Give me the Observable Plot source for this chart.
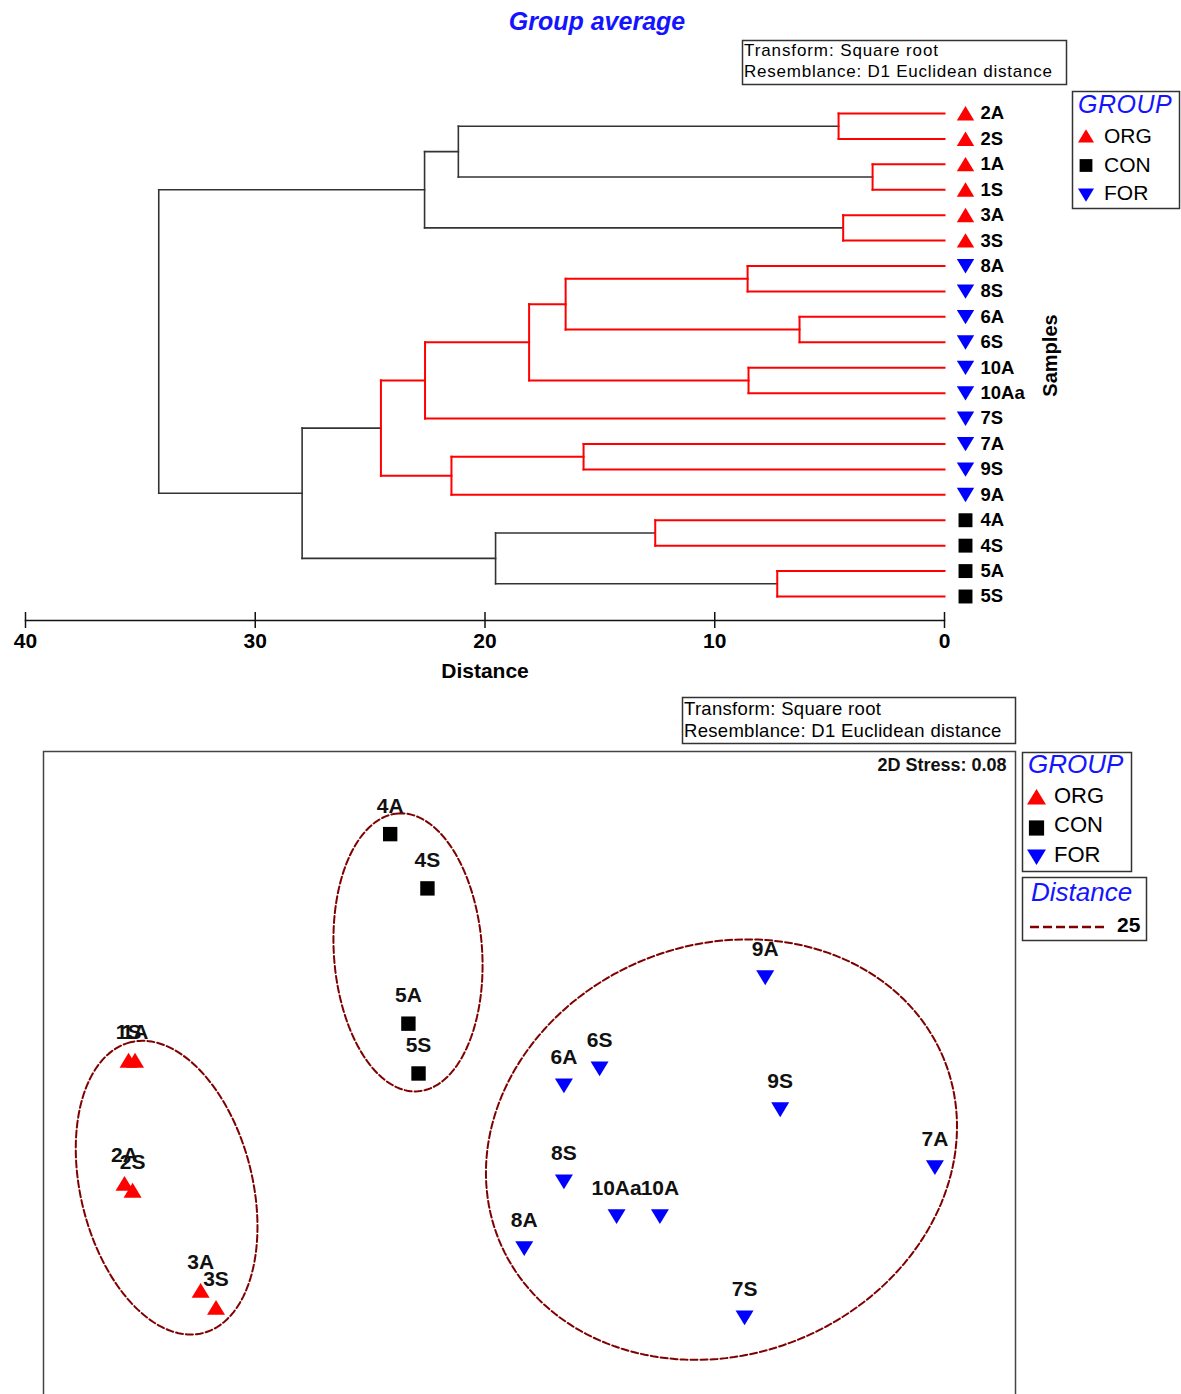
<!DOCTYPE html>
<html>
<head>
<meta charset="utf-8">
<script src="https://cdn.jsdelivr.net/npm/d3@7"></script>
<script src="https://cdn.jsdelivr.net/npm/@observablehq/plot@0.6"></script>
<style>
  html, body { margin: 0; padding: 0; background: #fff; }
  #page { position: relative; width: 1181px; height: 1394px; overflow: hidden; background: #fff; }
  #page > svg { position: absolute; left: 0; }
</style>
</head>
<body>
<div id="page"></div>
<script>
// ---------------- data ----------------
const samples = ["2A","2S","1A","1S","3A","3S","8A","8S","6A","6S","10A","10Aa","7S","7A","9S","9A","4A","4S","5A","5S"];
const sampleGroup = ["ORG","ORG","ORG","ORG","ORG","ORG","FOR","FOR","FOR","FOR","FOR","FOR","FOR","FOR","FOR","FOR","CON","CON","CON","CON"];
const groups = ["ORG","CON","FOR"];
const groupColors = ["#ff0000","#000000","#0000ff"];

// group-average clustering merges (node k+1 = "n"+(k+1))
const mergeLeft  = ["2A","1A","3A","n1","n4","8A","6A","n6","10A","n8","n10","7A","n12","n11","4A","5A","n15","n14","n5"];
const mergeRight = ["2S","1S","3S","n2","n3","8S","6S","n7","10Aa","n9","7S","9S","9A","n13","4S","5S","n16","n17","n18"];
const mergeHeight = [4.61,3.13,4.41,21.16,22.63,8.57,6.31,16.49,8.53,18.08,22.61,15.71,21.46,24.53,12.59,7.28,19.54,27.96,34.20];
const mergeSignificant = [false,false,false,true,true,false,false,false,false,false,false,false,false,false,false,false,true,true,true];
const distanceTicks = [40,30,20,10,0];

// NMDS coordinates (same order as samples)
const mds1 = [-1.000,-0.980,-0.974,-0.990,-0.812,-0.774,-0.013,0.085,0.085,0.173,0.322,0.215,0.531,1.001,0.619,0.582,-0.344,-0.252,-0.299,-0.274];
const mds2 = [-0.267,-0.284,0.037,0.037,-0.531,-0.573,-0.427,-0.262,-0.025,0.017,-0.348,-0.348,-0.598,-0.227,-0.084,0.242,0.596,0.462,0.128,0.005];

// distance-25 cluster contours (ellipse approximations in NMDS units)
const contourGroup = ["ORG","CON","FOR"];
const contourCx = [-0.896,-0.300,0.474];
const contourCy = [-0.277,0.304,-0.183];
const contourA = [0.370,0.344,0.593];
const contourB = [0.212,0.183,0.506];
const contourAngle = [104,94,22];
const contourDistance = 25;

const stressText = "2D Stress: 0.08";
const transformLines = ["Transform: Square root","Resemblance: D1 Euclidean distance"];
const titleText = "Group average";

// ---------------- helpers ----------------
const FONT = '"Liberation Sans", Arial, Helvetica, sans-serif';
const symUp = {draw(ctx, size){ const r = Math.sqrt(size/Math.PI); ctx.moveTo(0,-0.85*r); ctx.lineTo(r,0.8*r); ctx.lineTo(-r,0.8*r); ctx.closePath(); }};
const symDown = {draw(ctx, size){ const r = Math.sqrt(size/Math.PI); ctx.moveTo(-r,-0.8*r); ctx.lineTo(r,-0.8*r); ctx.lineTo(0,0.85*r); ctx.closePath(); }};
const symSquare = {draw(ctx, size){ const r = Math.sqrt(size/Math.PI); const s = 0.8*r; ctx.moveTo(-s,-s); ctx.lineTo(s,-s); ctx.lineTo(s,s); ctx.lineTo(-s,s); ctx.closePath(); }};
const groupSymbol = {ORG: symUp, CON: symSquare, FOR: symDown};
const colorOf = g => groupColors[groups.indexOf(g)];

const page = document.getElementById("page");

// ---------------- dendrogram ----------------
const nodeY = new Map(samples.map((s,i)=>[s,i]));
const nodeH = new Map(samples.map(s=>[s,0]));
const segs = [];
mergeLeft.forEach((l,k)=>{
  const r = mergeRight[k], h = mergeHeight[k], sig = mergeSignificant[k];
  const yl = nodeY.get(l), yr = nodeY.get(r);
  segs.push({x1:h, y1:yl, x2:h, y2:yr, sig});
  segs.push({x1:h, y1:yl, x2:nodeH.get(l), y2:yl, sig});
  segs.push({x1:h, y1:yr, x2:nodeH.get(r), y2:yr, sig});
  nodeY.set("n"+(k+1), (yl+yr)/2);
  nodeH.set("n"+(k+1), h);
});
const leaves = samples.map((name,i)=>({name, group: sampleGroup[i], idx: i}));

const dendro = Plot.plot({
  width: 1181, height: 690,
  marginLeft: 25, marginRight: 237, marginTop: 90, marginBottom: 70,
  x: {domain: [40, 0]},
  y: {domain: [0, samples.length-1], range: [113, 596], axis: null},
  style: {fontFamily: FONT, background: "transparent", color: "#000", overflow: "visible"},
  marks: [
    Plot.frame({anchor: "bottom", stroke: "#111", strokeWidth: 1.5}),
    Plot.axisX({ticks: distanceTicks, tickSize: -8, fill: "none", stroke: "#111", label: null, strokeWidth: 1.5}),
    Plot.axisX({ticks: distanceTicks, tickSize: 8, tickPadding: 5, stroke: "#111", strokeWidth: 1.5, fontSize: 21, fontWeight: "bold",
                label: "Distance", labelAnchor: "center", labelArrow: "none", labelOffset: 57}),
    Plot.link(segs.filter(d=>d.sig), {x1:"x1", y1:"y1", x2:"x2", y2:"y2", stroke:"#333", strokeWidth:1.6, strokeLinecap:"square"}),
    Plot.link(segs.filter(d=>!d.sig), {x1:"x1", y1:"y1", x2:"x2", y2:"y2", stroke:"#ff0000", strokeWidth:2, strokeLinecap:"square"}),
    ...groups.map(g => Plot.dot(leaves.filter(d=>d.group===g), {x: d=>nodeH.get(d.name), y: "idx", dx: 21, r: 8.7, symbol: groupSymbol[g], fill: colorOf(g), stroke: "none"})),
    Plot.text(leaves, {x: d=>nodeH.get(d.name), y: "idx", text: "name", dx: 36, textAnchor: "start", lineAnchor: "middle", fontSize: 18.5, fontWeight: "bold", fill: "#000", letterSpacing: 1}),
    Plot.text(["Samples"], {frameAnchor: "right", dx: 106, rotate: -90, textAnchor: "middle", lineAnchor: "middle", fontSize: 20, fontWeight: "bold", fill: "#000"})
  ]
});
dendro.style.top = "0px";
page.appendChild(dendro);

// ---------------- NMDS ----------------
const mdsPts = samples.map((name,i)=>({name, group: sampleGroup[i], x: mds1[i], y: mds2[i]}));
const contourPts = [];
contourGroup.forEach((g,k)=>{
  const th = contourAngle[k]*Math.PI/180;
  for (let t = 0; t <= 360; t += 2) {
    const u = t*Math.PI/180;
    const ex = contourA[k]*Math.cos(u), ey = contourB[k]*Math.sin(u);
    contourPts.push({group: g, x: contourCx[k] + ex*Math.cos(th) - ey*Math.sin(th), y: contourCy[k] + ex*Math.sin(th) + ey*Math.cos(th)});
  }
});

const nmds = Plot.plot({
  width: 1181, height: 740,
  marginLeft: 43, marginRight: 166, marginTop: 61, marginBottom: 0,
  x: {domain: [-1.2, 1.2], range: [43, 1015], axis: null},
  y: {domain: [-0.8, 0.8], range: [709, 61], axis: null},
  style: {fontFamily: FONT, background: "transparent", color: "#000", overflow: "visible"},
  marks: [
    Plot.frame({stroke: "#444", strokeWidth: 1.5}),
    Plot.line(contourPts, {x: "x", y: "y", z: "group", stroke: "#800000", strokeWidth: 2, strokeDasharray: "7,3"}),
    ...groups.map(g => Plot.dot(mdsPts.filter(d=>d.group===g), {x: "x", y: "y", r: 9, symbol: groupSymbol[g], fill: colorOf(g), stroke: "none"})),
    Plot.text(mdsPts, {x: "x", y: "y", text: "name", dy: -28, fontSize: 21, fontWeight: "bold", fill: "#111", lineAnchor: "middle"}),
    Plot.text([stressText], {frameAnchor: "top-right", dx: -9, dy: 14, textAnchor: "end", lineAnchor: "middle", fontSize: 18, fontWeight: "bold", fill: "#111"})
  ]
});
nmds.style.top = "690px";
page.appendChild(nmds);

// ---------------- titles, notes, legends ----------------
const ov = d3.select(page).append("svg")
  .attr("width", 1181).attr("height", 1394)
  .style("position", "absolute").style("top", "0px").style("left", "0px")
  .attr("font-family", FONT);
function box(x,y,w,h){ ov.append("rect").attr("x",x+0.5).attr("y",y+0.5).attr("width",w).attr("height",h).attr("fill","#fff").attr("stroke","#333").attr("stroke-width",1.5); }
function txt(s,x,y,size,o={}){
  ov.append("text").attr("x",x).attr("y",y).attr("font-size",size)
    .attr("font-weight",o.weight||"normal").attr("font-style",o.italic?"italic":"normal")
    .attr("fill",o.fill||"#000").attr("text-anchor",o.anchor||"start")
    .attr("letter-spacing",o.ls||0).text(s);
}
function sym(g,cx,cy,r){
  const p = d3.path(); groupSymbol[g].draw(p, Math.PI*r*r);
  ov.append("path").attr("d",p.toString()).attr("transform",`translate(${cx},${cy})`).attr("fill",colorOf(g));
}
const BLUE = "#1414ff";

txt(titleText, 597, 30, 25, {weight:"bold", italic:true, fill:BLUE, anchor:"middle"});

// top note box
box(742, 40, 324, 44);
txt(transformLines[0], 744, 55.5, 17, {ls:0.9});
txt(transformLines[1], 744, 77, 17, {ls:0.77});

// top legend
box(1072, 91, 107, 117);
txt("GROUP", 1078, 113, 25, {italic:true, fill:BLUE, ls:0.5});
[136,165.5,195].forEach((cy,i)=>sym(groups[i],1086,cy,8));
[143,172,199.5].forEach((by,i)=>txt(groups[i],1104,by,21));

// bottom note box
box(682, 697, 333, 46);
txt(transformLines[0], 684, 715, 18.5, {ls:0.3});
txt(transformLines[1], 684, 737, 18.5, {ls:0.3});

// bottom legend
box(1022, 752, 109, 119);
txt("GROUP", 1028, 773, 26, {italic:true, fill:BLUE});
[797,828,857].forEach((cy,i)=>sym(groups[i],1036.5,cy,9.5));
[803,832,862].forEach((by,i)=>txt(groups[i],1054,by,22));

box(1022, 877, 124, 63);
txt("Distance", 1031, 901, 26, {italic:true, fill:BLUE});
ov.append("line").attr("x1",1030).attr("x2",1104).attr("y1",927).attr("y2",927)
  .attr("stroke","#800000").attr("stroke-width",2.5).attr("stroke-dasharray","9,4");
txt(String(contourDistance), 1117, 932, 21, {weight:"bold"});
</script>
</body>
</html>
